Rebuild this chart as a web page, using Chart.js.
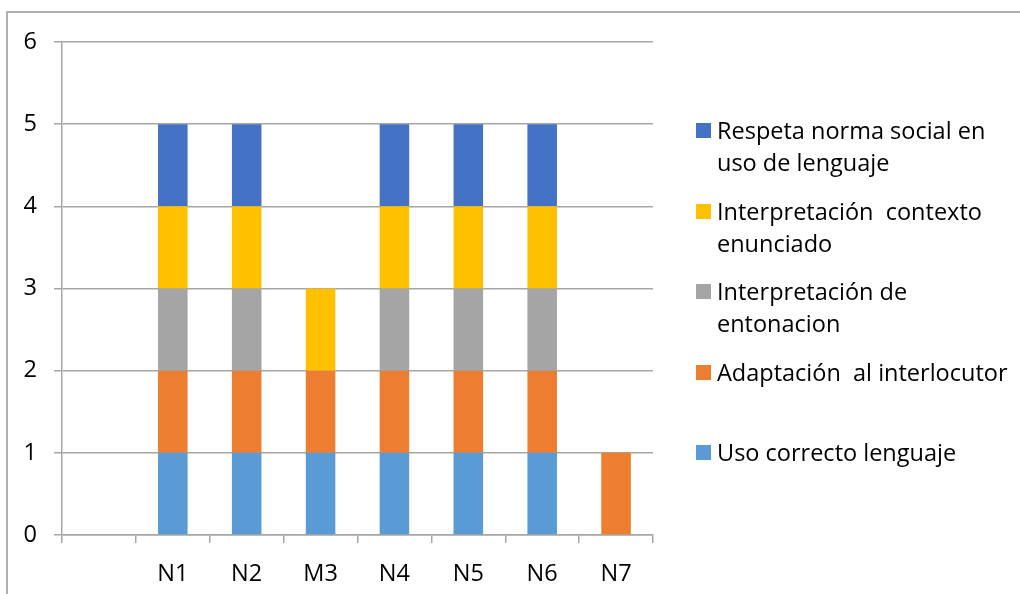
<!DOCTYPE html>
<html>
<head>
<meta charset="utf-8">
<script src="https://cdn.jsdelivr.net/npm/chart.js@4/dist/chart.umd.min.js"></script>
<style>
  html, body { margin: 0; padding: 0; background: #fff; }
  #wrap { position: relative; width: 1020px; height: 594px; overflow: hidden; }
  #frame { position: absolute; left: 6px; top: 11px; right: -10px; bottom: -10px;
           border-left: 2px solid #b0b0b0; border-top: 2px solid #b0b0b0; }
  #chart { position: absolute; left: 0; top: 0; }
  .item { position: absolute; left: 696px; font-family: "Open Sans", sans-serif;
          font-size: 23.5px; line-height: 32px; color: #000; white-space: pre; }
  .sw { position: absolute; left: 0; top: 9px; width: 15px; height: 15px; }
  .txt { position: absolute; left: 21px; top: 0; }
</style>
</head>
<body>
<div id="wrap">
  <div id="frame"></div>
  <canvas id="chart" width="1020" height="594"></canvas>
  <div id="legend"></div>
</div>
<script>
const categories = ["", "N1", "N2", "M3", "N4", "N5", "N6", "N7"];

const usoCorrecto   = [null, 1, 1, 1, 1, 1, 1, null];
const adaptacion    = [null, 1, 1, 1, 1, 1, 1, 1];
const entonacion    = [null, 1, 1, null, 1, 1, 1, null];
const contexto      = [null, 1, 1, 1, 1, 1, 1, null];
const respetaNorma  = [null, 1, 1, null, 1, 1, 1, null];

const seriesNames = [
  "Uso correcto lenguaje",
  "Adaptación  al interlocutor",
  "Interpretación de entonacion",
  "Interpretación  contexto enunciado",
  "Respeta norma social en uso de lenguaje"
];
// how the legend breaks each name into lines
const legendLines = [
  ["Uso correcto lenguaje"],
  ["Adaptación  al interlocutor"],
  ["Interpretación de", "entonacion"],
  ["Interpretación  contexto", "enunciado"],
  ["Respeta norma social en", "uso de lenguaje"]
];
const colors = ["#5B9BD5", "#ED7D31", "#A5A5A5", "#FFC000", "#4472C4"];
const seriesData = [usoCorrecto, adaptacion, entonacion, contexto, respetaNorma];

const font = { family: "'Open Sans', sans-serif", size: 23.5 };
const gridColor = "#a6a6a6";

new Chart(document.getElementById("chart"), {
  type: "bar",
  data: {
    labels: categories,
    datasets: seriesData.map((d, i) => ({
      label: seriesNames[i],
      data: d,
      backgroundColor: colors[i],
      borderWidth: 0,
      barPercentage: 0.4,
      categoryPercentage: 1
    }))
  },
  options: {
    responsive: false,
    animation: false,
    layout: { padding: { left: 8, right: 367, top: 42, bottom: 0 } },
    plugins: { legend: { display: false }, tooltip: { enabled: false } },
    scales: {
      x: {
        stacked: true,
        grid: { offset: true, drawOnChartArea: false, tickLength: 8, color: gridColor, lineWidth: 1.5 },
        border: { color: gridColor, width: 1.5 },
        ticks: { font: font, color: "#000", padding: 17 },
        afterFit: s => { s.height = 59; }
      },
      y: {
        stacked: true,
        min: 0,
        max: 6,
        grid: { tickLength: 8, color: gridColor, lineWidth: 1.5 },
        border: { color: gridColor, width: 1.5 },
        ticks: { stepSize: 1, font: font, color: "#000", padding: 17 },
        afterFit: s => { s.width = 54; }
      }
    }
  }
});

// legend on the right, top item first
const legend = document.getElementById("legend");
for (let k = 0; k < seriesNames.length; k++) {
  const i = seriesNames.length - 1 - k;
  const item = document.createElement("div");
  item.className = "item";
  item.style.top = (114 + k * 80.6) + "px";
  item.innerHTML = '<div class="sw" style="background:' + colors[i] + '"></div>';
  const t = document.createElement("div");
  t.className = "txt";
  t.textContent = legendLines[i].join("\n");
  item.appendChild(t);
  legend.appendChild(item);
}
</script>
</body>
</html>
